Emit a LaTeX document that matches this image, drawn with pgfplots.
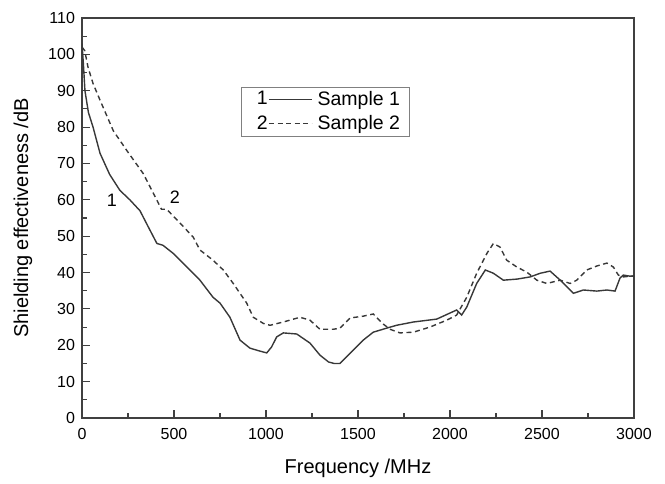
\documentclass[border=0pt]{standalone}
\usepackage{pgfplots}
\pgfplotsset{compat=1.18}
\usepackage{fontspec}
\setmainfont{Liberation Sans}

\definecolor{curve}{HTML}{383838}
\definecolor{frame}{HTML}{404040}

\newcommand{\tickfont}{\fontsize{8}{9.6}\selectfont}
\newcommand{\labfont}{\fontsize{9.75}{11.7}\selectfont}

\begin{document}
\begin{tikzpicture}
\begin{axis}[
    scale only axis,
    width=276pt, height=200pt,
    xmin=0, xmax=3000,
    ymin=0, ymax=110,
    xtick={0,500,...,3000},
    ytick={0,10,...,110},
    minor x tick num=1,
    minor y tick num=1,
    xtick pos=left, ytick pos=left,
    tick align=inside,
    major tick length=3.9pt,
    minor tick length=2.4pt,
    every tick/.style={frame, line width=0.55pt},
    axis line style={frame, line width=0.65pt},
    tick label style={font=\tickfont},
    label style={font=\labfont},
    /pgf/number format/assume math mode=true,
    scaled x ticks=false,
    /pgf/number format/1000 sep={},
    xticklabel style={yshift=-1.5pt},
    xlabel={Frequency /MHz},
    ylabel={Shielding effectiveness /dB},
    every axis x label/.style={at={(axis description cs:0.5,-0.125)}, anchor=center},
    every axis y label/.style={at={(axis description cs:-0.107,0.5)}, anchor=center, rotate=90},
    legend style={at={(rel axis cs:0.288,0.8275)}, anchor=north west,
        draw=gray, line width=0.4pt, inner xsep=2pt, inner ysep=1pt,
        row sep=1.6pt, font=\labfont,
        nodes={inner ysep=0.9pt, inner xsep=2.5pt}},
    legend cell align=left,
]
\addplot[curve, line width=0.7pt,
    legend image code/.code={
        \path (0pt,0pt);
        \node[anchor=west, inner sep=0pt, text=black, font=\labfont] (n) at (5pt,0pt) {1};
        \draw[curve, line width=0.7pt] ([xshift=0.3pt]n.east) -- ++(21.5pt,0pt);
    }] coordinates {
(0,103) (8,97) (16,90) (35,84) (60,80) (98,72.8) (150,67) (206,62.6) (260,60)
(315,57) (370,51.6) (407,48) (440,47.5) (495,45.3) (570,41.5) (641,37.9)
(712,33.2) (750,31.6) (804,27.7) (859,21.4) (913,19.2) (967,18.4) (1004,17.9)
(1030,19.5) (1058,22.3) (1094,23.4) (1167,23.1) (1239,20.6) (1293,17.3)
(1340,15.4) (1370,15) (1402,15) (1457,17.8) (1528,21.4) (1583,23.6) (1655,24.7)
(1710,25.5) (1801,26.4) (1928,27.2) (2036,29.7) (2063,28.3) (2091,30.5)
(2145,37) (2192,40.7) (2236,39.8) (2290,37.9) (2364,38.2) (2436,38.8)
(2490,39.8) (2544,40.4) (2599,37.9) (2653,35.2) (2671,34.3) (2725,35.2)
(2798,34.9) (2853,35.2) (2897,34.9) (2924,38.5) (2942,39.3) (2978,39) (3000,39)
};
\addlegendentry{Sample 1}
\addplot[curve, line width=0.7pt, dash pattern=on 2.5pt off 1.8pt,
    legend image code/.code={
        \path (0pt,0pt);
        \node[anchor=west, inner sep=0pt, text=black, font=\labfont] (n) at (5pt,0pt) {2};
        \draw[curve, line width=0.7pt, dash pattern=on 2.5pt off 1.8pt] ([xshift=0.3pt]n.east) -- ++(21.5pt,0pt);
    }] coordinates {
(0,102) (15,101) (33,96.4) (60,92) (98,87.4) (170,79) (243,73.6) (333,67.2)
(407,59.9) (432,57.4) (460,57.4) (533,53.6) (605,49.7) (641,46.2) (712,43.4)
(768,40.7) (822,37) (895,31.6) (931,27.7) (986,26) (1022,25.5) (1094,26.4)
(1185,27.7) (1239,26.9) (1293,24.4) (1366,24.4) (1402,24.7) (1457,27.5)
(1528,28) (1583,28.6) (1633,26) (1674,24.4) (1728,23.4) (1801,23.6) (1891,25)
(1982,26.9) (2036,28.3) (2091,33.2) (2145,39.8) (2201,45.3) (2236,48)
(2272,47) (2308,43.4) (2364,41.5) (2418,40.1) (2472,37.9) (2526,37)
(2599,37.9) (2653,37) (2689,37.9) (2743,40.7) (2798,41.8) (2853,42.6)
(2888,41.5) (2915,39.3) (2942,38.8) (2978,39) (3000,39)
};
\addlegendentry{Sample 2}
\node[font=\fontsize{9}{10.8}\selectfont] at (axis cs:163,59.9) {1};
\node[font=\fontsize{9}{10.8}\selectfont] at (axis cs:505,60.7) {2};
\end{axis}
\path ([xshift=-41pt,yshift=-28.5pt]current axis.south west)
    rectangle ([xshift=15.5pt,yshift=9pt]current axis.north east);
\end{tikzpicture}
\end{document}
